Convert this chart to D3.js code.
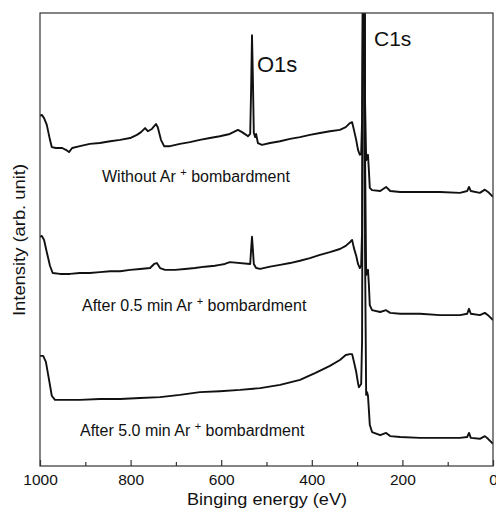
<!DOCTYPE html>
<html>
<head>
<meta charset="utf-8">
<script src="https://cdn.jsdelivr.net/npm/d3@7"></script>
<style>
  body { margin: 0; background: #fff; }
  text { font-family: "Liberation Sans", Arial, sans-serif; fill: #111; }
</style>
</head>
<body>
<script>
// XPS survey spectra (energy in eV, intensity in arb. unit)
var eTop = [1000,996,991,985,978,974,965,951,943,936,929,912,890,868,845,823,801,786,777,768,762,753,744,740,733,726,713,691,669,647,625,603,581,563,554,545,541,536,534,532,530,528,525,523,519,510,492,470,448,426,404,382,360,338,325,316,311,307,302,298,294,291,289,287,283.5,282.5,280,278,276,274,272,267,249,236,227,205,161,117,73,57,53,49,29,18,11,0];
var iTop = [77.3,77.5,76.8,75.3,72.0,70.4,70.2,70.2,69.8,69.3,70.2,70.6,71.1,71.3,71.7,72.0,72.4,73.1,73.7,74.6,73.9,74.4,75.5,74.8,72.0,70.6,70.6,71.1,71.5,72.0,72.4,72.8,73.3,74.2,73.7,73.1,72.8,73.3,83.0,95.1,85.2,73.5,72.6,73.3,71.3,70.9,71.3,71.7,72.2,72.6,73.1,73.5,73.9,74.2,74.8,75.7,75.9,74.2,72.0,69.8,68.7,68.9,76.4,110,110,80.8,67.5,68.0,68.7,65.3,61.4,60.9,60.7,61.6,60.7,60.5,60.5,60.5,60.3,60.7,61.6,60.7,60.3,61.0,60.5,59.4];

var eMid = [1000,996,991,985,978,972,956,934,912,890,868,845,823,801,779,757,748,742,735,724,702,680,658,636,614,603,592,581,536,534,532,530,528,523,514,492,470,448,426,404,382,360,338,325,316,311,307,302,298,294,291,289,287,283.5,282.5,280,278,276,274,272,267,249,236,227,205,161,117,73,57,53,49,29,18,11,0];
var iMid = [50.6,50.8,49.9,47.2,44.2,42.6,42.4,42.4,42.6,42.6,42.8,43.0,43.0,43.3,43.5,43.7,44.6,44.8,43.7,43.3,43.3,43.5,43.7,44.0,44.2,44.4,44.6,45.0,44.6,47.7,50.6,47.7,44.6,43.7,43.5,44.0,44.4,44.8,45.3,45.9,46.6,47.2,47.9,48.6,49.4,49.9,48.1,46.4,44.6,43.7,44.2,52.1,110,110,69.8,42.2,42.8,43.3,40.0,35.5,34.4,34.0,34.4,33.8,33.6,33.6,33.3,33.3,33.6,34.7,33.6,33.3,33.8,33.3,32.2];

var eBot = [1000,993,987,980,974,967,945,912,868,823,779,735,691,647,603,558,514,470,426,393,360,338,325,316,311,307,302,298,296,291,289,287,283.5,282.5,280,278,276,274,272,267,249,236,227,205,161,117,73,57,53,49,29,18,11,0];
var iBot = [24.3,24.3,23.0,19.0,15.5,14.6,14.6,14.6,14.8,14.8,15.0,15.2,15.7,16.3,16.5,16.8,17.2,17.9,19.0,20.5,22.1,23.4,24.5,24.7,24.7,23.0,20.8,18.3,17.4,18.1,27.8,110,110,47.7,15.7,16.3,15.5,12.4,9.1,7.5,6.8,7.3,6.6,6.4,6.2,6.2,6.2,6.4,7.3,6.2,6.0,6.6,6.0,4.9];

var labels = ['Without Ar', 'After 0.5 min Ar', 'After 5.0 min Ar'];
var majorTicks = [1000, 800, 600, 400, 200, 0];
var minorTicks = [900, 700, 500, 300, 100];

var w = 496;
var h = 508;
var mLeft = 40, mRight = 493, mTop = 13, mBottom = 466;

var x = d3.scaleLinear().domain([1000, 0]).range([mLeft, mRight]);
var y = d3.scaleLinear().domain([0, 100]).range([mBottom, mTop]);

var svg = d3.select('body')
	.append('svg')
	.attr('width', w)
	.attr('height', h);

svg.append('clipPath')
	.attr('id', 'frame')
	.append('rect')
	.attr('x', mLeft)
	.attr('y', mTop)
	.attr('width', mRight - mLeft)
	.attr('height', mBottom - mTop);

var line = d3.line()
	.x(function(d){ return x(d[0]); })
	.y(function(d){ return y(d[1]); });

var series = [[eTop, iTop], [eMid, iMid], [eBot, iBot]];
series.forEach(function(s){
	svg.append('path')
		.datum(d3.zip(s[0], s[1]))
		.attr('clip-path', 'url(#frame)')
		.attr('fill', 'none')
		.attr('stroke', '#111')
		.attr('stroke-width', 1.9)
		.attr('stroke-linejoin', 'round')
		.attr('d', line);
});

// frame
svg.append('rect')
	.attr('x', mLeft)
	.attr('y', mTop)
	.attr('width', mRight - mLeft)
	.attr('height', mBottom - mTop)
	.attr('fill', 'none')
	.attr('stroke', '#333')
	.attr('stroke-width', 1.2);

// x axis, ticks pointing inward
var ax = svg.append('g')
	.attr('transform', 'translate(0,' + mBottom + ')')
	.call(d3.axisBottom(x).tickValues(majorTicks).tickSize(-6).tickPadding(8).tickFormat(d3.format('d')));
ax.select('.domain').remove();
ax.selectAll('line').attr('stroke', '#333').attr('stroke-width', 1.2);
ax.selectAll('text').attr('font-size', 15.5).attr('font-family', '"Liberation Sans", Arial, sans-serif').attr('fill', '#111');

var axMinor = svg.append('g')
	.attr('transform', 'translate(0,' + mBottom + ')')
	.call(d3.axisBottom(x).tickValues(minorTicks).tickSize(-4).tickFormat(''));
axMinor.select('.domain').remove();
axMinor.selectAll('line').attr('stroke', '#333').attr('stroke-width', 1.2);

svg.append('text')
	.attr('x', 267)
	.attr('y', 505)
	.attr('text-anchor', 'middle')
	.attr('font-size', 17)
	.attr('textLength', 160)
	.attr('lengthAdjust', 'spacingAndGlyphs')
	.text('Binging energy (eV)');

svg.append('text')
	.attr('transform', 'translate(25,240) rotate(-90)')
	.attr('text-anchor', 'middle')
	.attr('font-size', 17)
	.attr('textLength', 152)
	.attr('lengthAdjust', 'spacingAndGlyphs')
	.text('Intensity (arb. unit)');

// peak labels
svg.append('text').attr('x', 257).attr('y', 72).attr('font-size', 22).text('O1s');
svg.append('text').attr('x', 374).attr('y', 46).attr('font-size', 21).text('C1s');

// treatment labels
var labelPos = [[102, 182], [82, 311], [80, 436]];
labels.forEach(function(t, i){
	var tx = svg.append('text')
		.attr('x', labelPos[i][0])
		.attr('y', labelPos[i][1])
		.attr('font-size', 16);
	tx.append('tspan').text(t + ' ');
	tx.append('tspan').attr('dy', -6).attr('font-size', 11).text('+');
	tx.append('tspan').attr('dy', 6).text(' bombardment');
});
</script>
</body>
</html>
